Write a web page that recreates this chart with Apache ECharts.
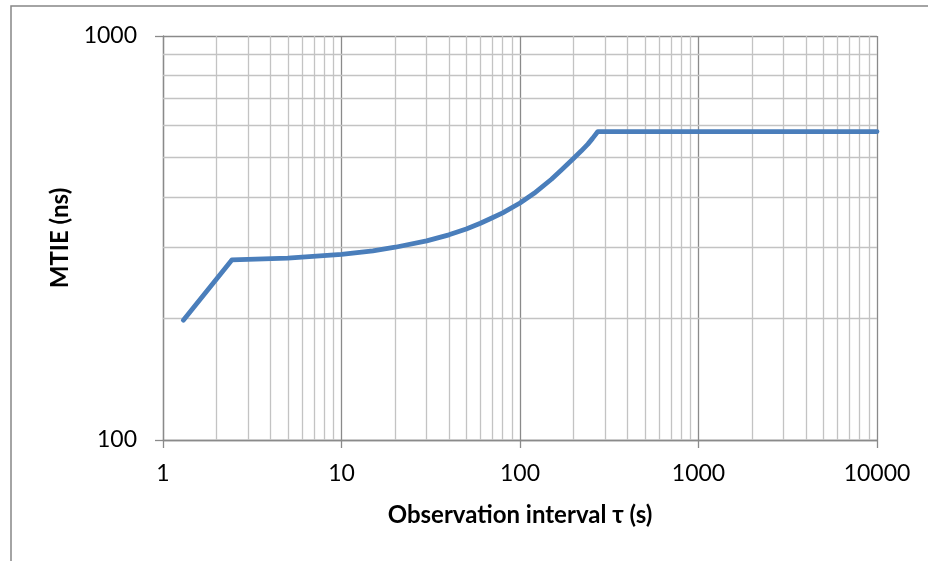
<!DOCTYPE html>
<html>
<head>
<meta charset="utf-8">
<script src="https://cdn.jsdelivr.net/npm/echarts@6/dist/echarts.min.js"></script>
<style>
  html, body { margin: 0; padding: 0; background: #fff; }
  #chart { width: 928px; height: 561px; }
</style>
</head>
<body>
<div id="chart"></div>
<script>
// observation interval tau (s) and MTIE (ns)
const tau  = [1.3, 2.43, 5, 10, 15, 20, 30, 40, 50, 60, 70, 80, 100, 120, 150, 170, 200, 220, 240, 255, 273, 10000]
const mtie = [198, 279, 282, 288, 294, 300, 311, 322, 333, 344, 355, 365, 386, 408, 442, 465, 498, 519, 540, 558, 580, 580]

// minor grid positions (2..9 of each decade)
const xMinor = [2, 3, 4, 5, 6, 7, 8, 9, 20, 30, 40, 50, 60, 70, 80, 90,
  200, 300, 400, 500, 600, 700, 800, 900, 2000, 3000, 4000, 5000, 6000, 7000, 8000, 9000]
const yMinor = [200, 300, 400, 500, 600, 700, 800, 900]

const font = 'Lato, "Liberation Sans", sans-serif'
const majorGrey = '#8a8a8a'
const minorGrey = '#c3c3c3'

const chart = echarts.init(document.getElementById('chart'))

const minorLines = xMinor.map(v => ({ xAxis: v }))
  .concat(yMinor.map(v => ({ yAxis: v })))

chart.setOption({
  animation: false,
  backgroundColor: '#fff',
  graphic: [{
    type: 'rect',
    shape: { x: 11, y: 6, width: 1000, height: 1000 },
    style: { fill: 'none', stroke: '#878787', lineWidth: 1.5 },
    silent: true,
  }],
  grid: { left: 163, right: 51, top: 36, bottom: 121 },
  xAxis: {
    type: 'log',
    logBase: 10,
    min: 1,
    max: 10000,
    name: 'Observation interval τ (s)',
    nameLocation: 'middle',
    nameGap: 63,
    nameTextStyle: { fontFamily: font, fontWeight: 'bold', fontSize: 24, color: '#000' },
    axisLine: { lineStyle: { color: majorGrey, width: 1.3 } },
    axisTick: { show: true, length: 8, lineStyle: { color: majorGrey, width: 1.3 } },
    axisLabel: { fontFamily: font, fontSize: 23, color: '#000', margin: 22, formatter: v => String(v) },
    splitLine: { show: true, lineStyle: { color: majorGrey, width: 1.3 } },
  },
  yAxis: {
    type: 'log',
    logBase: 10,
    min: 100,
    max: 1000,
    name: 'MTIE (ns)',
    nameLocation: 'middle',
    nameGap: 89,
    nameTextStyle: { fontFamily: font, fontWeight: 'bold', fontSize: 24, color: '#000' },
    axisLine: { show: true, lineStyle: { color: majorGrey, width: 1.3 } },
    axisTick: { show: true, length: 8, lineStyle: { color: majorGrey, width: 1.3 } },
    axisLabel: { fontFamily: font, fontSize: 23, color: '#000', margin: 26, formatter: v => String(v) },
    splitLine: { show: true, lineStyle: { color: majorGrey, width: 1.3 } },
  },
  series: [{
    type: 'line',
    data: tau.map((t, i) => [t, mtie[i]]),
    showSymbol: false,
    smooth: false,
    z: 5,
    lineStyle: { color: '#4a7ebb', width: 4.8, cap: 'round', join: 'round' },
    markLine: {
      silent: true,
      symbol: 'none',
      label: { show: false },
      z: 1,
      lineStyle: { color: minorGrey, width: 1.3, type: 'solid' },
      data: minorLines,
    },
  }],
})
</script>
</body>
</html>
